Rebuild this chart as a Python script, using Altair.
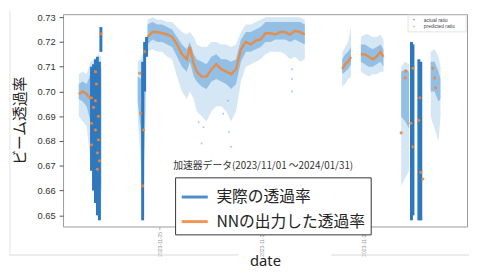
import altair as alt
import pandas as pd

BASE = pd.Timestamp("2023-11-23")

# ---- blue clouds: day offset from 2023-11-23, sparse low / dense low / dense high / sparse high, predicted
cloud_seg = (["A"] * 7 + ["B"] * 4 + ["C"] * 34 + ["D"] * 4 + ["E"] * 7 + ["F"] * 3 + ["G"] * 4)
cloud_day = [0.406, 0.483, 0.560, 0.638, 0.715, 0.792, 0.850,
             1.565, 1.623, 1.681, 1.720,
             1.758, 1.855, 1.952, 2.048, 2.145, 2.242, 2.338, 2.435, 2.531, 2.589,
             2.667, 2.725, 2.821, 2.918, 3.014, 3.111, 3.208, 3.304, 3.401, 3.498,
             3.594, 3.691, 3.787, 3.884, 3.981, 4.077, 4.174, 4.271, 4.367, 4.464,
             4.560, 4.657, 4.754, 4.850,
             5.585, 5.643, 5.700, 5.758,
             5.952, 6.029, 6.106, 6.184, 6.261, 6.338, 6.396,
             6.744, 6.821, 6.899,
             7.324, 7.401, 7.478, 7.517]
cloud_lo = [0.690, 0.688, 0.686, 0.672, 0.660, 0.652, 0.650,
            0.690, 0.672, 0.655, 0.690,
            0.716, 0.717, 0.716, 0.716, 0.714, 0.713, 0.706, 0.700, 0.697, 0.700,
            0.697, 0.692, 0.690, 0.688, 0.692, 0.694, 0.694, 0.692, 0.688, 0.692,
            0.704, 0.710, 0.711, 0.712, 0.713, 0.715, 0.716, 0.716, 0.716, 0.715,
            0.713, 0.714, 0.712, 0.713,
            0.702, 0.703, 0.705, 0.706,
            0.708, 0.707, 0.706, 0.707, 0.707, 0.708, 0.708,
            0.662, 0.665, 0.668,
            0.690, 0.685, 0.680, 0.690]
core_lo = [0.697, 0.696, 0.694, 0.688, 0.672, 0.665, 0.660,
           0.696, 0.685, 0.665, 0.700,
           0.719, 0.721, 0.720, 0.720, 0.719, 0.718, 0.714, 0.710, 0.708, 0.712,
           0.706, 0.704, 0.702, 0.701, 0.704, 0.705, 0.704, 0.703, 0.701, 0.703,
           0.712, 0.716, 0.716, 0.717, 0.718, 0.720, 0.720, 0.721, 0.721, 0.721,
           0.720, 0.721, 0.720, 0.719,
           0.707, 0.708, 0.709, 0.711,
           0.712, 0.711, 0.710, 0.710, 0.711, 0.712, 0.710,
           0.690, 0.688, 0.685,
           0.700, 0.700, 0.696, 0.697]
core_hi = [0.703, 0.704, 0.703, 0.707, 0.708, 0.710, 0.709,
           0.706, 0.705, 0.712, 0.718,
           0.727, 0.728, 0.727, 0.727, 0.726, 0.725, 0.722, 0.719, 0.717, 0.720,
           0.715, 0.713, 0.712, 0.711, 0.714, 0.715, 0.713, 0.713, 0.712, 0.713,
           0.721, 0.724, 0.724, 0.725, 0.726, 0.728, 0.728, 0.728, 0.728, 0.728,
           0.728, 0.728, 0.728, 0.727,
           0.713, 0.715, 0.716, 0.718,
           0.719, 0.719, 0.718, 0.717, 0.718, 0.719, 0.717,
           0.708, 0.709, 0.708,
           0.712, 0.712, 0.708, 0.705]
cloud_hi = [0.707, 0.708, 0.707, 0.712, 0.713, 0.715, 0.714,
            0.712, 0.713, 0.716, 0.721,
            0.729, 0.730, 0.729, 0.729, 0.728, 0.728, 0.726, 0.724, 0.723, 0.724,
            0.722, 0.719, 0.718, 0.718, 0.720, 0.720, 0.719, 0.719, 0.718, 0.719,
            0.724, 0.727, 0.727, 0.728, 0.729, 0.730, 0.730, 0.730, 0.730, 0.730,
            0.730, 0.730, 0.730, 0.729,
            0.716, 0.718, 0.720, 0.726,
            0.722, 0.723, 0.723, 0.722, 0.722, 0.723, 0.721,
            0.710, 0.712, 0.711,
            0.716, 0.717, 0.714, 0.710]
cloud_pred = [0.699, 0.700, 0.699, 0.697, None, None, None,
              None, None, None, None,
              0.722, 0.724, 0.724, 0.7235, 0.723, 0.722, 0.719, 0.715, 0.713, 0.718,
              0.711, 0.708, 0.706, 0.706, 0.709, 0.711, 0.709, 0.708, 0.707, 0.709,
              0.717, 0.720, 0.719, 0.7205, 0.721, 0.7235, 0.7235, 0.723, 0.724, 0.724,
              0.723, 0.7245, 0.724, 0.723,
              0.709, 0.711, 0.712, 0.714,
              0.715, 0.715, 0.714, 0.713, 0.714, 0.716, 0.714,
              None, None, None,
              None, None, None, None]

# ---- dense vertical streaks of the actual ratio
streak_day = [0.657, 0.696, 0.734, 0.773, 0.812, 0.841, 1.662, 1.701, 1.739,
              6.947, 6.976, 7.092, 7.130]
streak_top = [0.710, 0.711, 0.713, 0.714, 0.712, 0.726, 0.712, 0.720, 0.722,
              0.720, 0.719, 0.713, 0.712]
streak_bot = [0.668, 0.660, 0.655, 0.650, 0.648, 0.716, 0.648, 0.700, 0.714,
              0.648, 0.650, 0.648, 0.648]

# ---- scattered predicted values inside the streaks
pdot_day = [0.657, 0.696, 0.734, 0.657, 0.792, 0.657, 0.773, 0.753, 0.734, 0.841,
            0.773, 0.734, 0.812, 0.792,
            1.604, 1.623, 1.681, 1.662, 1.701,
            6.821, 6.841, 6.976, 6.937, 6.744, 7.111, 7.092, 7.130, 7.169, 6.976,
            7.362, 7.401, 7.420]
pdot_val = [0.6975, 0.6936, 0.6963, 0.6872, 0.6805, 0.6785, 0.6686, 0.703, 0.708, 0.7233,
            0.6753, 0.6845, 0.672, 0.690,
            0.7074, 0.6912, 0.6845, 0.6619, 0.7161,
            0.7055, 0.7082, 0.7094, 0.6872, 0.6833, 0.6975, 0.6884, 0.6674, 0.6647, 0.6777,
            0.7094, 0.7055, 0.7015]

# ---- sparse stray actual points
stray_day = [2.763, 2.860, 2.821, 3.362, 3.246, 3.343, 3.401, 4.599, 4.599, 4.599]
stray_val = [0.6876, 0.6856, 0.679, 0.6836, 0.691, 0.6963, 0.6777, 0.709, 0.705, 0.700]

series_names = ["実際の透過率", "NNの出力した透過率"]
series_colors = ["#2f78be", "#ef8636"]
y_ticks = [0.65, 0.66, 0.67, 0.68, 0.69, 0.70, 0.71, 0.72, 0.73]
small_legend = ["actual ratio", "predicted ratio"]
note_text = ["加速器データ(2023/11/01 ～2024/01/31)"]


def to_time(days):
    return [BASE + pd.to_timedelta(d, unit="D") for d in days]


cloud = pd.DataFrame({"seg": cloud_seg, "t": to_time(cloud_day), "lo": cloud_lo,
                      "clo": core_lo, "chi": core_hi, "hi": cloud_hi, "pred": cloud_pred})
predline = cloud.dropna(subset=["pred"]).copy()
predline["series"] = series_names[1]
streaks = pd.DataFrame({"t": to_time(streak_day), "top": streak_top, "bot": streak_bot,
                        "series": series_names[0]})
pdots = pd.DataFrame({"t": to_time(pdot_day), "v": pdot_val})
strays = pd.DataFrame({"t": to_time(stray_day), "v": stray_val})

xscale = alt.Scale(domain=[alt.DateTime(year=2023, month=11, date=23, hours=2, minutes=20),
                           alt.DateTime(year=2023, month=12, date=1, hours=0, minutes=56)])
xaxis = alt.Axis(values=[alt.DateTime(year=2023, month=11, date=25),
                         alt.DateTime(year=2023, month=11, date=27),
                         alt.DateTime(year=2023, month=11, date=29)],
                 format="%Y-%m-%d", labelAngle=270, labelFontSize=5, labelColor="#999",
                 labelFont="Liberation Sans", tickSize=3, tickColor="#aaa", labelPadding=2,
                 titleFontSize=15, titleFont="Noto Sans", titleFontWeight="normal",
                 titleColor="#222", titleBaseline="alphabetic", titleY=40)
yscale = alt.Scale(domain=[0.6455, 0.7312], nice=False, zero=False)
yaxis = alt.Axis(values=y_ticks, format=".2f", labelFontSize=9.5, labelColor="#333",
                 labelFont="Liberation Sans", tickSize=4, tickColor="#555", labelPadding=4,
                 titleFontSize=15, titleFont="Noto Sans CJK JP", titleFontWeight="normal",
                 titleColor="#222", titleX=-36, titleY=108, titleAngle=270,
                 titleBaseline="bottom", titleAlign="center")

X = alt.X("t:T", scale=xscale, axis=xaxis, title="date")
YT = "ビーム透過率"

sparse = alt.Chart(cloud).mark_area(color="#b9d6ef", opacity=0.6).encode(
    x=X, y=alt.Y("lo:Q", scale=yscale, axis=yaxis, title=YT), y2="hi:Q", detail="seg:N")
core = alt.Chart(cloud).mark_area(color="#5f9fd6", opacity=0.55).encode(
    x=X, y=alt.Y("clo:Q", scale=yscale, axis=yaxis, title=YT), y2="chi:Q", detail="seg:N")
stray = alt.Chart(strays).mark_circle(size=4, color="#8fbde6", opacity=0.8).encode(
    x=X, y=alt.Y("v:Q", scale=yscale, axis=yaxis, title=YT))

color = alt.Color("series:N", scale=alt.Scale(domain=series_names, range=series_colors),
                  legend=alt.Legend(title=None, orient="none", legendX=114, legendY=166,
                                    direction="vertical", symbolType="stroke", symbolSize=700,
                                    symbolStrokeWidth=3, labelFontSize=16,
                                    labelFont="Noto Sans CJK JP", labelColor="#222",
                                    labelLimit=300, labelOffset=7, padding=5, rowPadding=2,
                                    strokeColor="#333", fillColor="white"))

streak = alt.Chart(streaks).mark_rule(strokeWidth=3).encode(
    x=X, y=alt.Y("top:Q", scale=yscale, axis=yaxis, title=YT), y2="bot:Q", color=color)
pline = alt.Chart(predline).mark_line(strokeWidth=2.5, opacity=0.85).encode(
    x=X, y=alt.Y("pred:Q", scale=yscale, axis=yaxis, title=YT), detail="seg:N", color=color)
pdot = alt.Chart(pdots).mark_circle(size=10, color="#ef8636", opacity=0.9).encode(
    x=X, y=alt.Y("v:Q", scale=yscale, axis=yaxis, title=YT))

# small matplotlib-style legend in the corner
sl_box = alt.Chart(pd.DataFrame({"k": [0]})).mark_rect(
    fill="white", stroke="#ddd", strokeWidth=0.8).encode(
    x=alt.value(351), x2=alt.value(410), y=alt.value(1), y2=alt.value(18))
sl_df = pd.DataFrame({"label": small_legend, "c": series_colors, "yy": [5.5, 12.5]})
sl_text = alt.Chart(sl_df).mark_text(align="left", baseline="middle", fontSize=5,
                                     font="Liberation Sans", color="#444").encode(
    x=alt.value(367), y=alt.Y("yy:Q", scale=None), text="label:N")
sl_dot = alt.Chart(sl_df).mark_circle(size=3).encode(
    x=alt.value(357), y=alt.Y("yy:Q", scale=None), color=alt.Color("c:N", scale=None))

note = alt.Chart(pd.DataFrame({"txt": note_text})).mark_text(
    align="left", baseline="middle", fontSize=10, font="Noto Sans CJK JP", color="#333").encode(
    x=alt.value(112), y=alt.value(154), text="txt:N")

# faint slide frame lines
frame_v = alt.Chart(pd.DataFrame({"k": [0]})).mark_rule(color="#e2e2e2", strokeWidth=1).encode(
    x=alt.value(-54), y=alt.value(-4), y2=alt.value(245))
frame_h1 = alt.Chart(pd.DataFrame({"k": [0]})).mark_rule(color="#d8d8d8", strokeWidth=1).encode(
    x=alt.value(-54), x2=alt.value(178), y=alt.value(245))
frame_h2 = alt.Chart(pd.DataFrame({"k": [0]})).mark_rule(color="#d8d8d8", strokeWidth=1).encode(
    x=alt.value(273), x2=alt.value(413), y=alt.value(245))

chart = alt.layer(frame_v, frame_h1, frame_h2, sparse, core, stray, streak, pline, pdot,
                  sl_box, sl_dot, sl_text, note).properties(
    width=411, height=216, autosize="none",
    padding={"left": 56, "top": 4, "right": 2, "bottom": 45},
).configure_view(stroke="#999", strokeWidth=1).configure_axis(grid=False, domain=False)

chart.save("out.html", embed_options={"renderer": "svg", "actions": False})
